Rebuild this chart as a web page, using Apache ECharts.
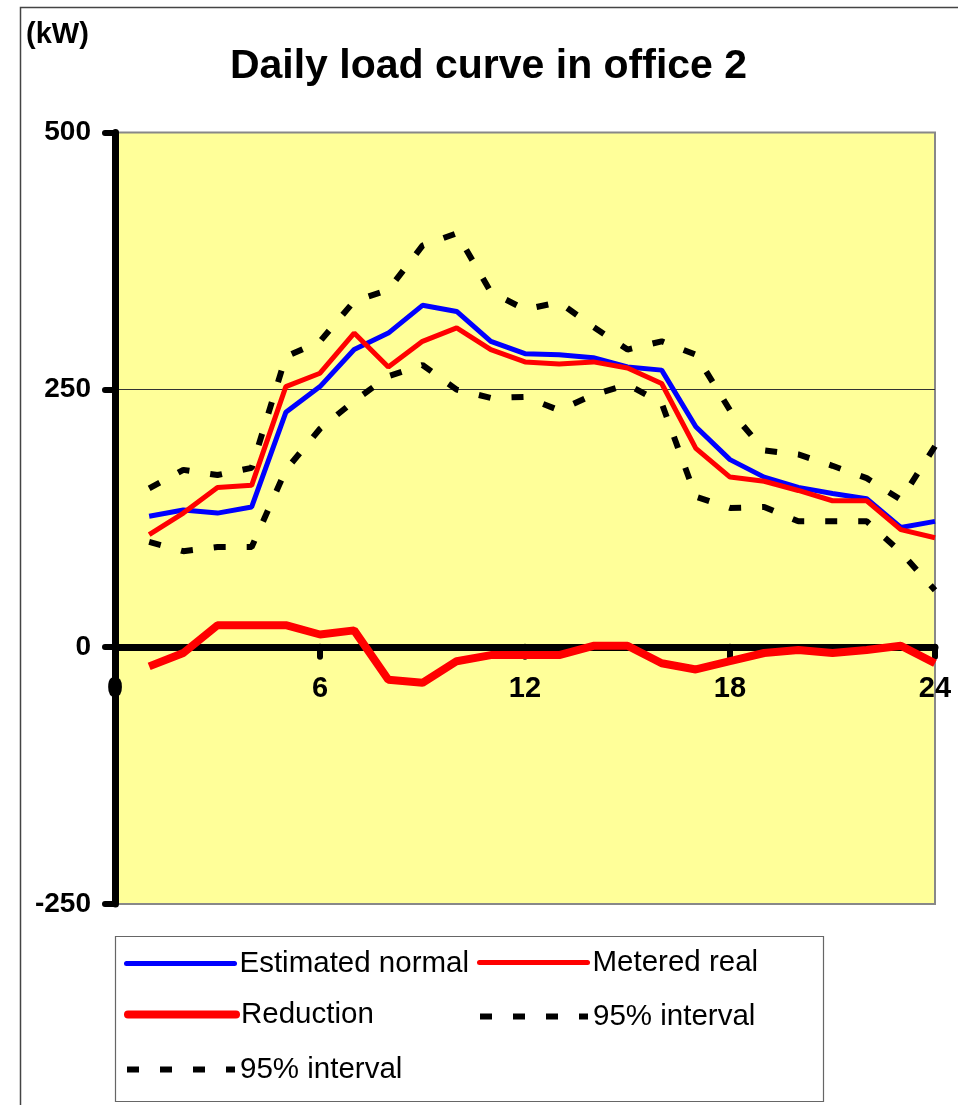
<!DOCTYPE html>
<html>
<head>
<meta charset="utf-8">
<script src="https://cdn.jsdelivr.net/npm/echarts@6/dist/echarts.min.js"></script>
<style>
html,body{margin:0;padding:0;background:#fff;}
#chart{width:958px;height:1105px;}
</style>
</head>
<body>
<div id="chart"></div>
<script>
// ---- data ----
const hours = [1,2,3,4,5,6,7,8,9,10,11,12,13,14,15,16,17,18,19,20,21,22,23,24];
const estimatedNormal = [127,133,130,136,228,253,289,305,332,326,297,285,284,281,272,269,214,182,165,155,149,144,116,122];
const meteredReal = [109,130,155,157,253,266,305,272,297,310,289,277,275,277,271,256,193,165,161,152,142,142,114,106];
const reduction = [-19,-6,21,21,21,12,16,-32,-35,-14,-8,-8,-8,1,1,-16,-22,-14,-6,-3,-6,-3,1,-16];
const upper95 = [154,172,167,174,282,297,336,347,390,402,345,328,335,311,289,297,284,230,191,187,176,164,143,195];
const lower95 = [102,93,97,97,172,212,239,263,274,250,242,243,230,245,255,237,146,135,136,122,122,122,92,55];
const xTicks = {min: 0, max: 24, interval: 6};
const yTicks = {min: -250, max: 500, interval: 250};
const titleText = 'Daily load curve in office 2';
const unitText = '(kW)';
const seriesNames = ['Estimated normal', 'Metered real', 'Reduction', '95% interval', '95% interval '];

const pairs = arr => hours.map((h, i) => [h, arr[i]]);
const FONT = 'Liberation Sans, Arial, sans-serif';
const chart = echarts.init(document.getElementById('chart'), null, {renderer: 'canvas'});

const GRID = {left: 115, right: 23, top: 132.5, bottom: 201};
const plotH = 1105 - GRID.top - GRID.bottom;
// offset that moves the x axis from the plot bottom up to the zero line
const zeroOffset = -plotH * (0 - yTicks.min) / (yTicks.max - yTicks.min);

function lg(name, left, center, lineStyle) {
  return {
    data: [name], left: left, top: center - 14.5,
    orient: 'horizontal', itemWidth: 108, itemHeight: 29, padding: 0, selectedMode: false,
    itemStyle: {opacity: 0},
    lineStyle: lineStyle,
    textStyle: {fontFamily: FONT, fontSize: 29.5, color: '#000', lineHeight: 29}
  };
}

chart.setOption({
  animation: false,
  backgroundColor: '#fff',
  graphic: [
    {type: 'rect', shape: {x: 20.5, y: 7.5, width: 1000, height: 1200}, style: {fill: 'none', stroke: '#444', lineWidth: 1.5}, z: -10, silent: true},
    {type: 'text', x: 488.5, y: 67, style: {text: titleText, font: 'bold 41px ' + FONT, fill: '#000', textAlign: 'center', textVerticalAlign: 'middle'}},
    {type: 'text', x: 26, y: 35, style: {text: unitText, font: 'bold 29px ' + FONT, fill: '#000', textAlign: 'left', textVerticalAlign: 'middle'}},
    {type: 'rect', shape: {x: 115.5, y: 936.5, width: 708, height: 165}, style: {fill: 'none', stroke: '#666', lineWidth: 1.2}, silent: true}
  ],
  legend: [
    lg(seriesNames[0], 124, 963, {width: 5, cap: 'round'}),
    lg(seriesNames[1], 477, 962, {width: 5, cap: 'round'}),
    lg(seriesNames[2], 124, 1014, {width: 8, cap: 'round'}),
    lg(seriesNames[3], 477, 1016, {width: 6}),
    lg(seriesNames[4], 124, 1069, {width: 6})
  ],
  grid: {left: GRID.left, right: GRID.right, top: GRID.top, bottom: GRID.bottom, show: true, backgroundColor: '#FFFF99', borderColor: '#888', borderWidth: 2},
  xAxis: {
    type: 'value', min: xTicks.min, max: xTicks.max, interval: xTicks.interval,
    position: 'bottom', offset: zeroOffset,
    axisLine: {show: true, onZero: false, lineStyle: {color: '#000', width: 7}},
    axisTick: {show: true, inside: false, length: 10, lineStyle: {color: '#000', width: 6, cap: 'round'}},
    axisLabel: {fontFamily: FONT, fontSize: 29, fontWeight: 'bold', color: '#000', margin: 28},
    splitLine: {show: false}
  },
  yAxis: {
    type: 'value', min: yTicks.min, max: yTicks.max, interval: yTicks.interval,
    axisLine: {show: true, onZero: false, lineStyle: {color: '#000', width: 7}},
    axisTick: {show: true, inside: false, length: 10, lineStyle: {color: '#000', width: 6, cap: 'round'}},
    axisLabel: {fontFamily: FONT, fontSize: 28, fontWeight: 'bold', color: '#000', margin: 24},
    splitLine: {show: true, lineStyle: {color: ['#888', '#000', '#333', '#888'], width: 1}}
  },
  series: [
    {name: seriesNames[0], type: 'line', data: pairs(estimatedNormal), symbol: 'none', lineStyle: {color: '#0000FF', width: 5}, itemStyle: {color: '#0000FF'}},
    {name: seriesNames[1], type: 'line', data: pairs(meteredReal), symbol: 'none', lineStyle: {color: '#FF0000', width: 5}, itemStyle: {color: '#FF0000'}},
    {name: seriesNames[2], type: 'line', data: pairs(reduction), symbol: 'none', lineStyle: {color: '#FF0000', width: 8}, itemStyle: {color: '#FF0000'}},
    {name: seriesNames[3], type: 'line', data: pairs(upper95), symbol: 'none', lineStyle: {color: '#000', width: 6, type: [12, 21]}, itemStyle: {color: '#000'}},
    {name: seriesNames[4], type: 'line', data: pairs(lower95), symbol: 'none', lineStyle: {color: '#000', width: 6, type: [12, 21]}, itemStyle: {color: '#000'}}
  ]
});
</script>
</body>
</html>
